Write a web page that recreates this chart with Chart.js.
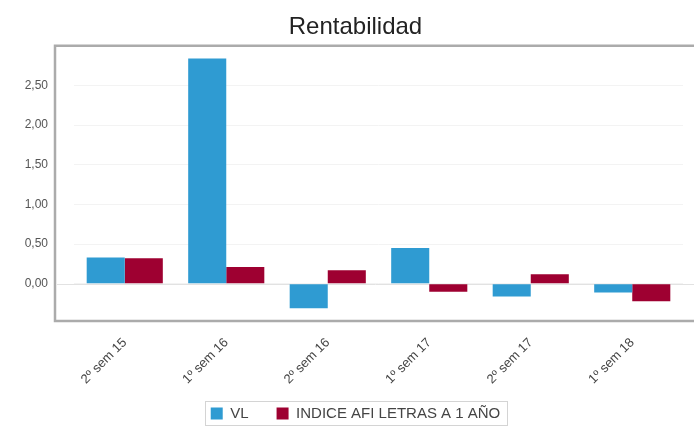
<!DOCTYPE html>
<html>
<head>
<meta charset="utf-8">
<script src="https://cdn.jsdelivr.net/npm/chart.js@4/dist/chart.umd.min.js"></script>
<style>
  html, body { margin: 0; padding: 0; background: #fff; }
  #chart { display: block; }
</style>
</head>
<body>
<canvas id="chart" width="694" height="426"></canvas>
<script>
// Semesters on the x axis
const categories = ['2º sem 15', '1º sem 16', '2º sem 16', '1º sem 17', '2º sem 17', '1º sem 18'];
// Return (%) per semester
const vlValues = [0.33, 2.84, -0.31, 0.45, -0.16, -0.11];
const indiceValues = [0.32, 0.21, 0.17, -0.10, 0.12, -0.22];
// Labelled ticks on the y axis
const yTicks = [0, 0.5, 1, 1.5, 2, 2.5];

Chart.defaults.font.family = "'Liberation Sans', Arial, sans-serif";

// Grey frame (left, top, bottom) plus the light zero line, both a bit wider than the bars area
const framePlugin = {
  id: 'frame',
  beforeDatasetsDraw(chart) {
    const { ctx, chartArea: a, scales } = chart;
    const left = a.left - 19;
    const right = chart.width;
    const y0 = scales.y.getPixelForValue(0);
    ctx.save();
    ctx.strokeStyle = '#e2e2e2';
    ctx.lineWidth = 1;
    ctx.beginPath();
    ctx.moveTo(left + 2, Math.round(y0) + 0.5);
    ctx.lineTo(right, Math.round(y0) + 0.5);
    ctx.stroke();
    ctx.strokeStyle = '#ababab';
    ctx.lineWidth = 2.5;
    ctx.beginPath();
    ctx.moveTo(right, a.top);
    ctx.lineTo(left, a.top);
    ctx.lineTo(left, a.bottom);
    ctx.lineTo(right, a.bottom);
    ctx.stroke();
    ctx.restore();
  },
  afterDraw(chart) {
    // thin box round the legend items
    const boxes = chart.legend && chart.legend.legendHitBoxes;
    if (!boxes || !boxes.length) return;
    const l = Math.min(...boxes.map(b => b.left)) - 6;
    const r = Math.max(...boxes.map(b => b.left + b.width)) + 6;
    const t = Math.min(...boxes.map(b => b.top)) - 5;
    const btm = Math.max(...boxes.map(b => b.top + b.height)) + 4;
    const ctx = chart.ctx;
    ctx.save();
    ctx.strokeStyle = '#d4d4d4';
    ctx.lineWidth = 1;
    ctx.strokeRect(Math.round(l) + 0.5, Math.round(t) + 0.5, Math.round(r - l), Math.round(btm - t));
    ctx.restore();
  }
};

// labels may hang outside their scale box, so skip the scale's clip
const noClip = scale => { scale._computeLabelArea = () => undefined; };

new Chart(document.getElementById('chart'), {
  type: 'bar',
  data: {
    labels: categories,
    datasets: [
      { label: 'VL', data: vlValues, backgroundColor: '#2f9bd2' },
      { label: 'INDICE AFI LETRAS A 1 AÑO', data: indiceValues, backgroundColor: '#9e0031' }
    ]
  },
  options: {
    responsive: false,
    animation: false,
    layout: { padding: { left: 28, right: 11, top: 0, bottom: -5 } },
    datasets: { bar: { categoryPercentage: 0.75, barPercentage: 1 } },
    plugins: {
      title: {
        display: true,
        text: 'Rentabilidad',
        color: '#222',
        font: { size: 24, weight: 'normal' },
        padding: { top: 13, bottom: 4 }
      },
      legend: {
        position: 'bottom',
        labels: {
          boxWidth: 12,
          boxHeight: 12,
          padding: 28,
          color: '#444',
          font: { size: 15 }
        }
      },
      tooltip: { enabled: false }
    },
    scales: {
      x: {
        grid: { display: false },
        border: { display: false },
        ticks: {
          minRotation: 45,
          maxRotation: 45,
          padding: 6,
          color: '#444',
          font: { size: 13 }
        },
        afterFit(scale) {
          scale.height = 57;
          noClip(scale);
        }
      },
      y: {
        min: -0.47,
        max: 3.0,
        grid: { color: '#f3f3f3', drawTicks: false },
        border: { display: false },
        afterBuildTicks(axis) { axis.ticks = yTicks.map(v => ({ value: v })); },
        ticks: {
          padding: 26,
          color: '#555',
          font: { size: 12 },
          callback: v => v.toFixed(2).replace('.', ',')
        },
        afterFit(scale) {
          scale.width = 46;
          noClip(scale);
        }
      }
    }
  },
  plugins: [framePlugin]
});
</script>
</body>
</html>
